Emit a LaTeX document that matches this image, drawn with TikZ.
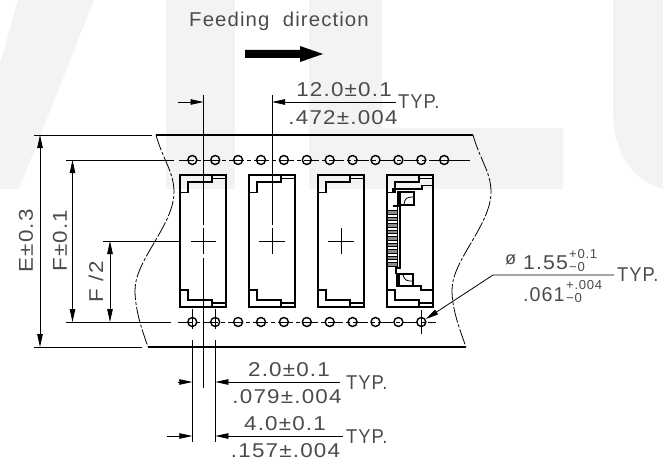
\documentclass[tikz,border=0pt]{standalone}
\usepackage{fontspec}
\setmainfont[LetterSpace=6,FakeStretch=1.12]{Liberation Sans}
\usetikzlibrary{arrows.meta}
\definecolor{mygrey}{RGB}{243,243,243}
\definecolor{mytext}{RGB}{75,75,75}

\begin{document}
\begin{tikzpicture}[x=1pt,y=-1pt]

\tikzstyle{label} = [inner sep=0, text=mytext, font=\fontsize{20}{20}\selectfont]
\tikzstyle{small} = [inner sep=0, text=mytext, xscale=0.9, font=\fontsize{13}{13}\selectfont]
\tikzstyle{typ} = [label, anchor=west, xscale=0.82]
\tikzstyle{thin} = [line width=0.8]
\tikzstyle{outline} = [line width=2]
\tikzstyle{inside} = [line width=1.3]
\tikzstyle{dimline} = [line width=0.8, -{Triangle[length=13pt,width=5.5pt]}]
\tikzstyle{dimboth} = [line width=0.8, {Triangle[length=13pt,width=5.5pt]}-{Triangle[length=13pt,width=5.5pt]}]
\tikzstyle{wavy} = [line width=0.8, dash pattern=on 16pt off 2pt on 3pt off 2pt]
\tikzstyle{holeline} = [line width=0.8, dash pattern=on 15pt off 3pt on 4pt off 3pt]
\tikzstyle{hole} = [draw, circle, line width=1.4, minimum size=9pt, inner sep=0]

\useasboundingbox (0,0) rectangle (663,468);

% =========================
% watermark behind the drawing
% =========================
\fill[mygrey] (18,0) -- (94,0) -- (19,189) -- (0,189) -- (0,63) -- cycle;
\fill[mygrey] (166,0) rectangle (235,189);
\fill[mygrey] (309,0) -- (382,0) -- (382,128) -- (563,128) -- (563,189) -- (309,189) -- cycle;
\fill[mygrey] (613,0) -- (663,0) -- (663,189) .. controls (630,180) and (613,150) .. (613,110) -- cycle;

% =========================
% title and feeding arrow
% =========================
\node[label,anchor=base,xscale=0.91] (title) at (279,27) {Feeding~~direction};
\fill (245,50) -- (300,50) -- (300,46) -- (323,54) -- (300,62) -- (300,58) -- (245,58) -- cycle;

% =========================
% tape
% =========================
\draw[line width=1.5] (156,135) -- (473,135);
\draw[line width=1.5] (148,347) -- (466,347);
\draw[wavy] (156,135) .. controls (163,160) and (174,172) .. (174,192) .. controls (174,225) and (135,260) .. (135,290) .. controls (135,310) and (142,330) .. (148,347);
\draw[wavy] (473,135) .. controls (480,160) and (491,172) .. (491,192) .. controls (491,225) and (452,260) .. (452,290) .. controls (452,310) and (460,330) .. (466,347);

% =========================
% sprocket holes
% =========================
\draw[holeline] (179,160) -- (444,160);
\draw[thin] (444,160) -- (470,160);
\draw[holeline] (178,322) -- (436,322);
\foreach \i in {0,...,11}
  \node[hole] (top\i) at (192.3+22.9*\i,160) {};
\foreach \i in {0,...,10}
  \node[hole] (bot\i) at (192.3+22.9*\i,322) {};

% =========================
% pockets
% =========================
\foreach \x in {180,249,318,387} {
  \draw[outline] (\x,175) rectangle (\x+46,307);
  \draw[inside] (\x,192.5) -- (\x+8,192.5) -- (\x+8,182) -- (\x+32,182) -- (\x+32,175);
  \draw[inside] (\x+32,178.5) -- (\x+46,178.5);
  \draw[inside] (\x,290) -- (\x+8,290) -- (\x+8,300) -- (\x+32,300) -- (\x+32,307);
  \draw[inside] (\x+32,303) -- (\x+46,303);
}

% =========================
% connector in the last pocket
% =========================
\draw[inside] (393,192) -- (393,189) -- (422,189) -- (422,185.5) -- (433,185.5);
\draw[inside] (396,286) -- (421,286) -- (421,290) -- (433,290);
\draw[outline] (398,192) -- (414,192) -- (414,205) -- (398,205) -- cycle;
\draw[outline] (400,192) -- (400,205);
\draw[thin] (404,204) .. controls (405,198) and (407,197) .. (413,197);
\draw[outline] (397,274) -- (413,274) -- (413,286) -- (397,286) -- cycle;
\draw[outline] (399,274) -- (399,286);
\draw[thin] (403,275) .. controls (405,281) and (407,281) .. (413,281);
\draw[outline] (393,205.5) -- (401,205.5);
\draw[outline] (400,205) -- (400,268) -- (396,268) -- (396,274);
\draw[thin] (397.5,205) -- (397.5,268);
\foreach \i in {0,...,8} {
  \fill[black!45] (388,211+6.5*\i) rectangle (397,213.5+6.5*\i);
  \draw[thin] (388,210.5+6.5*\i) -- (397,210.5+6.5*\i);
  \draw[thin] (388,214+6.5*\i) -- (397,214+6.5*\i);
}

% =========================
% centre marks
% =========================
\draw[thin] (191,241) -- (216,241);
\draw[thin] (259,241) -- (285,241);
\draw[thin] (328,241) -- (354,241);
\draw[thin] (341,228) -- (341,254);
\draw[thin] (272,228) -- (272,254);
\draw[thin] (203.5,228) -- (203.5,254);
\draw[thin] (203.5,95) -- (203.5,225);
\draw[thin] (272,95) -- (272,225);
\draw[thin] (203.5,258) -- (203.5,388);
\foreach \x in {192.3,215.4} {
  \draw[thin] (\x,309) -- (\x,329);
  \draw[thin] (\x,340) -- (\x,442);
}
\draw[thin] (421.3,310) -- (421.3,334);

% =========================
% extension lines
% =========================
\draw[thin] (34,135) -- (152,135);
\draw[thin] (34,347) -- (142,347);
\draw[thin] (66,160) -- (174,160);
\draw[thin] (66,322) -- (171,322);
\draw[thin] (103,241) -- (180,241);

% =========================
% vertical dimensions
% =========================
\coordinate (etop) at (40,135);
\coordinate (ebot) at (40,347);
\coordinate (ftop) at (72.5,160);
\coordinate (fbot) at (72.5,322);
\coordinate (htop) at (110,241);
\coordinate (hbot) at (110,322);
\draw[dimboth] (etop) -- (ebot);
\draw[dimboth] (ftop) -- (fbot);
\draw[dimboth] (htop) -- (hbot);
\node[label,rotate=90] (e) at (26,241) {E±0.3};
\node[label,rotate=90] (f) at (60,240.5) {F±0.1};
\node[label,rotate=90] (half) at (96,282) {F /2};

% =========================
% horizontal dimensions
% =========================
\coordinate (pa) at (178,102);
\coordinate (pb) at (203.5,102);
\coordinate (pc) at (272,102);
\coordinate (pd) at (396,102);
\draw[dimline] (pa) -- (pb);
\draw[dimline] (pd) -- (pc);
\node[label] (pitchup) at (344,90) {12.0±0.1};
\node[label] (pitchlow) at (343,118) {.472±.004};
\node[typ] (pitchtyp) at (398,102) {TYP.};

\coordinate (qa) at (178,382);
\coordinate (qb) at (192.3,382);
\coordinate (qc) at (215.4,382);
\coordinate (qd) at (340,382);
\draw[dimline] (qa) -- (qb);
\draw[dimline] (qd) -- (qc);
\node[label] (holeup) at (289,370) {2.0±0.1};
\node[label] (holelow) at (287,397) {.079±.004};
\node[typ] (holetyp) at (346,383) {TYP.};

\coordinate (ra) at (167,436);
\coordinate (rb) at (192.3,436);
\coordinate (rc) at (215.4,436);
\coordinate (rd) at (343,436);
\draw[dimline] (ra) -- (rb);
\draw[dimline] (rd) -- (rc);
\node[label] (spaceup) at (285,424) {4.0±0.1};
\node[label] (spacelow) at (285.5,451) {.157±.004};
\node[typ] (spacetyp) at (346,437) {TYP.};

% =========================
% hole diameter leader
% =========================
\coordinate (la) at (614,275);
\coordinate (lb) at (493,275);
\draw[line width=0.8,{Triangle[length=13pt,width=5.5pt]}-] (bot10) -- (lb) -- (la);
\node[small,anchor=west,font=\fontsize{18}{18}\selectfont] (phi) at (505,260) {ø};
\node[label,anchor=west,xscale=0.95] (dia) at (523,263) {1.55};
\node[small,anchor=west] (diaup) at (569,254) {+0.1};
\node[small,anchor=west] (dialow) at (569,267) {−0};
\node[label,anchor=west,xscale=0.88] (inch) at (523,295) {.061};
\node[small,anchor=west] (inchup) at (566,285) {+.004};
\node[small,anchor=west] (inchlow) at (566,298) {−0};
\node[typ] (leadtyp) at (617,275) {TYP.};

\end{tikzpicture}
\end{document}
